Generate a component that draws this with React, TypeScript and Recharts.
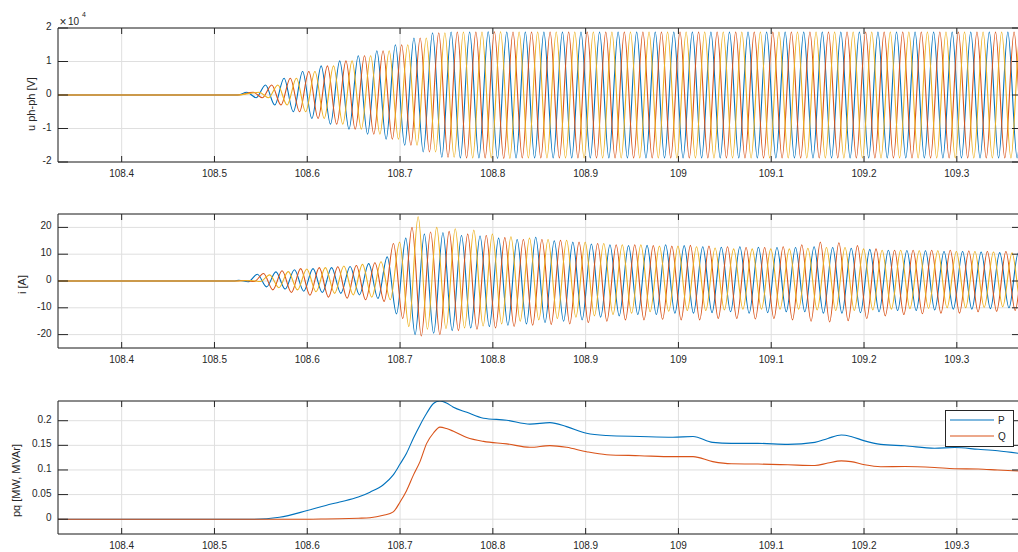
import React from "react";
import { LineChart, Line, XAxis, YAxis, CartesianGrid, ReferenceLine } from "recharts";

const X_MIN = 108.3314;
const X_MAX = 109.367;
const X_TICKS = [108.4, 108.5, 108.6, 108.7, 108.8, 108.9, 109, 109.1, 109.2, 109.3];

const PERIOD = 0.02;
const FIRST_CYCLE = 108.53;

// line-to-line voltage, peak per cycle (x10^4 V)
const uAmp = [
  0.08, 0.3, 0.5, 0.7, 0.87, 1.02, 1.17, 1.32, 1.5, 1.7,
  1.86, 1.88, 1.88, 1.89, 1.88, 1.88, 1.88, 1.88, 1.88, 1.88,
  1.88, 1.88, 1.88, 1.88, 1.88, 1.88, 1.88, 1.88, 1.88, 1.88,
  1.88, 1.88, 1.88, 1.88, 1.88, 1.88, 1.88, 1.88, 1.88, 1.88,
  1.88, 1.88, 1.88,
];
const uStart = 108.525;
const uShift = [0.005, 0.0117, 0.0183];

// phase currents, positive / negative peaks per cycle (A)
const iPosA = [
  0.3, 2.5, 3.4, 4.2, 4.6, 5.0, 5.4, 6.5, 9, 16,
  17.5, 18, 17, 16.8, 16, 15.5, 16.3, 15, 14.5, 13.8,
  13.5, 13.2, 13.3, 13.5, 13.2, 12.8, 12.6, 12.8, 12.6, 12.5,
  12.5, 12.8, 12.5, 12.2, 11.8, 11.5, 11.4, 11.3, 11, 11,
  10.8, 10.6, 10.5,
];
const iNegA = [
  0.3, 2.2, 3.0, 3.8, 4.3, 4.6, 5.2, 6.5, 12.3, 20,
  19.5, 18.5, 17.5, 17, 16.5, 16, 15.5, 15, 14.5, 13.5,
  13, 12.5, 12.5, 12, 12, 11.8, 11.5, 12, 11.8, 11.5,
  11.5, 12, 12, 11.8, 11.5, 11, 11, 10.8, 10.5, 10.5,
  10.3, 10, 10,
];
const iPosB = [
  0.2, 2.8, 3.8, 4.6, 5.0, 5.3, 5.8, 6.8, 14, 20,
  18.3, 18.5, 17.5, 17, 16.2, 15.5, 15.5, 15.2, 14.5, 14,
  13.5, 13.5, 13.2, 13, 13.3, 13, 12.8, 12.5, 12.5, 12.8,
  13.5, 14.5, 14.3, 13.2, 12, 11.5, 11.5, 11.5, 11.5, 11.2,
  11, 11, 10.8,
];
const iNegB = [
  0.2, 3.3, 4.3, 5.3, 6.0, 6.4, 7.0, 7.6, 14, 20.5,
  20, 18.5, 18, 17.5, 17, 16.5, 16.2, 16, 15.5, 15,
  14.5, 14.5, 14.3, 14.5, 14.5, 14, 14, 14.2, 14, 14.5,
  15, 15.3, 14.8, 14, 13, 12.5, 12.2, 12, 12, 11.5,
  11.3, 11, 11,
];
const iPosC = [
  0.2, 2.3, 3.5, 4.5, 5.0, 5.6, 6.2, 7.2, 14.5, 24,
  20, 19.5, 19, 17.5, 16.5, 16, 15.5, 15.2, 14.5, 14,
  13.5, 13.5, 13, 13, 12.8, 12.3, 12, 12, 12, 12,
  12.2, 12.5, 12.5, 12, 11.5, 11.5, 11.3, 11.3, 11, 11,
  10.8, 10.5, 10.5,
];
const iNegC = [
  0.2, 2.5, 3.3, 4.0, 4.6, 5.2, 6.0, 7.0, 17, 18,
  17.8, 17.5, 16.8, 16, 15, 14.5, 14, 13.5, 13, 12.5,
  12, 11.5, 11.3, 11, 11, 10.8, 10.5, 10.5, 10.5, 10.5,
  10.8, 11, 11, 10.8, 10.5, 10.3, 10.2, 10, 10, 9.8,
  9.6, 9.5, 9.5,
];
const iStart = 108.522;
const iShift = [-0.0038, 0.0029, 0.0095];

// active / reactive power
const pqTime = [
  108.3314, 108.54, 108.57, 108.6, 108.62, 108.635, 108.655, 108.6676, 108.682, 108.6927,
  108.7, 108.707, 108.7145, 108.7215, 108.7287, 108.736, 108.743, 108.75, 108.757, 108.772,
  108.79, 108.815, 108.84, 108.8615, 108.8795, 108.901, 108.9226, 108.9585, 108.994, 109.0157,
  109.037, 109.057, 109.0857, 109.118, 109.147, 109.161, 109.1755, 109.186, 109.2006, 109.218,
  109.244, 109.276, 109.2976, 109.323, 109.344, 109.366,
];
const pVals = [
  0, 0, 0.004, 0.0176, 0.028, 0.035, 0.045, 0.055, 0.07, 0.09,
  0.112, 0.134, 0.165, 0.191, 0.215, 0.235, 0.24, 0.236, 0.228, 0.217,
  0.205, 0.201, 0.193, 0.196, 0.188, 0.1745, 0.17, 0.168, 0.1665, 0.168,
  0.156, 0.154, 0.154, 0.152, 0.156, 0.164, 0.171, 0.168, 0.159, 0.152,
  0.149, 0.144, 0.1455, 0.142, 0.139, 0.134,
];
const qVals = [
  0, 0, 0, 0, 0.0005, 0.001, 0.002, 0.003, 0.008, 0.015,
  0.035, 0.058, 0.09, 0.117, 0.154, 0.175, 0.187, 0.184, 0.179, 0.166,
  0.158, 0.153, 0.146, 0.1495, 0.146, 0.137, 0.131, 0.129, 0.127, 0.127,
  0.117, 0.1125, 0.112, 0.1105, 0.109, 0.114, 0.1185, 0.117, 0.1105, 0.1065,
  0.107, 0.105, 0.1025, 0.102, 0.0998, 0.0978,
];

const COLORS = ["#0072BD", "#D95319", "#EDB120"];
const AXIS = "#262626";
const GRID = "#dfdfdf";
const FONT = "'Liberation Sans', Arial, Helvetica, sans-serif";
const PLOT_LEFT = 58;
const PLOT_RIGHT = 1019;

function wave(start: number, shift: number, pos: number[], neg: number[]) {
  const pts = [{ t: X_MIN, v: 0 }, { t: start, v: 0 }];
  pos.forEach((p, k) => {
    const tp = FIRST_CYCLE + k * PERIOD + shift;
    pts.push({ t: tp, v: p });
    pts.push({ t: tp + PERIOD / 2, v: -neg[k] });
  });
  return pts;
}

const uSeries = uShift.map((s) => wave(uStart, s, uAmp, uAmp));
const iSeries = [
  wave(iStart, iShift[0], iPosA, iNegA),
  wave(iStart, iShift[1], iPosB, iNegB),
  wave(iStart, iShift[2], iPosC, iNegC),
];
const pqData = pqTime.map((t, i) => ({ t, p: pVals[i], q: qVals[i] }));

const fmtX = (v: number) => String(Number(v.toFixed(1)));
const fmtY = (v: number) => String(Number(v.toFixed(2)));

const xTick = (top: number, bottom: number) => (props: any) => {
  const { x, payload } = props;
  return (
    <g>
      <line x1={x} x2={x} y1={bottom} y2={bottom - 6} stroke={AXIS} />
      <line x1={x} x2={x} y1={top} y2={top + 6} stroke={AXIS} />
      <text x={x} y={bottom + 11} textAnchor="middle" dominantBaseline="central" fontSize={10} fill={AXIS} fontFamily={FONT}>
        {fmtX(payload.value)}
      </text>
    </g>
  );
};

const yTick = (props: any) => {
  const { y, payload } = props;
  return (
    <g>
      <line x1={PLOT_LEFT} x2={PLOT_LEFT + 10} y1={y} y2={y} stroke={AXIS} />
      <line x1={PLOT_RIGHT - 7} x2={PLOT_RIGHT} y1={y} y2={y} stroke={AXIS} />
      <text x={PLOT_LEFT - 6.5} y={y - 1.5} textAnchor="end" dominantBaseline="central" fontSize={10} fill={AXIS} fontFamily={FONT}>
        {fmtY(payload.value)}
      </text>
    </g>
  );
};

function Panel({
  top, height, marginTop, xHeight, domain, ticks, children, data,
}: {
  top: number; height: number; marginTop: number; xHeight: number;
  domain: [number, number]; ticks: number[]; children: React.ReactNode; data?: any[];
}) {
  const plotBottom = height - xHeight;
  return (
    <div style={{ position: "absolute", left: 0, top }}>
      <LineChart width={1020} height={height} data={data} margin={{ top: marginTop, right: 1, bottom: 0, left: 0 }}>
        <CartesianGrid stroke={GRID} />
        <XAxis
          dataKey="t" type="number" domain={[X_MIN, X_MAX]} ticks={X_TICKS} interval={0}
          allowDataOverflow height={xHeight} tickLine={false} tickSize={0} tickMargin={0}
          axisLine={{ stroke: AXIS }} tick={xTick(marginTop, plotBottom)}
        />
        <YAxis
          type="number" domain={domain} ticks={ticks} interval={0} allowDataOverflow width={PLOT_LEFT}
          tickLine={false} tickSize={0} tickMargin={0} axisLine={{ stroke: AXIS }} tick={yTick}
        />
        {children}
        <ReferenceLine y={domain[1]} stroke={AXIS} />
        <ReferenceLine x={X_MAX} stroke={AXIS} />
      </LineChart>
    </div>
  );
}

export default function App() {
  return (
    <div style={{ position: "absolute", left: 0, top: 0, width: 1018, height: 552, overflow: "hidden", background: "#fff" }}>
      <Panel top={0} height={185} marginTop={28} xHeight={23} domain={[-2, 2]} ticks={[-2, -1, 0, 1, 2]}>
        {uSeries.map((s, i) => (
          <Line key={i} data={s} dataKey="v" type="monotone" stroke={COLORS[i]} strokeWidth={1.1} dot={false} isAnimationActive={false} />
        ))}
      </Panel>
      <Panel top={186} height={185} marginTop={28} xHeight={23} domain={[-25, 25]} ticks={[-20, -10, 0, 10, 20]}>
        {iSeries.map((s, i) => (
          <Line key={i} data={s} dataKey="v" type="monotone" stroke={COLORS[i]} strokeWidth={1.1} dot={false} isAnimationActive={false} />
        ))}
      </Panel>
      <Panel top={372} height={180} marginTop={29} xHeight={18} domain={[-0.03, 0.24]} ticks={[0, 0.05, 0.1, 0.15, 0.2]} data={pqData}>
        <Line dataKey="p" name="P" type="monotone" stroke={COLORS[0]} strokeWidth={1.1} dot={false} isAnimationActive={false} />
        <Line dataKey="q" name="Q" type="monotone" stroke={COLORS[1]} strokeWidth={1.1} dot={false} isAnimationActive={false} />
      </Panel>
      <svg width={1018} height={552} style={{ position: "absolute", left: 0, top: 0, pointerEvents: "none" }} fontFamily={FONT}>
        <text x={31} y={104} transform="rotate(-90 31 104)" textAnchor="middle" dominantBaseline="central" fontSize={11} fill={AXIS}>u ph-ph [V]</text>
        <text x={22} y={284.5} transform="rotate(-90 22 284.5)" textAnchor="middle" dominantBaseline="central" fontSize={11} fill={AXIS}>i [A]</text>
        <text x={16} y={480.5} transform="rotate(-90 16 480.5)" textAnchor="middle" dominantBaseline="central" fontSize={11} fill={AXIS}>pq [MW, MVAr]</text>
        <text x={59.5} y={21.5} dominantBaseline="central" fontSize={12} fill={AXIS}>×</text>
        <text x={68} y={21} dominantBaseline="central" fontSize={10} fill={AXIS}>10</text>
        <text x={82} y={14} dominantBaseline="central" fontSize={7} fill={AXIS}>4</text>
        <rect x={945.5} y={410.5} width={68} height={36} fill="#fff" stroke={AXIS} />
        <line x1={950} x2={994} y1={420} y2={420} stroke={COLORS[0]} strokeWidth={1.1} />
        <text x={998} y={420} dominantBaseline="central" fontSize={10} fill={AXIS}>P</text>
        <line x1={950} x2={994} y1={436} y2={436} stroke={COLORS[1]} strokeWidth={1.1} />
        <text x={998} y={436} dominantBaseline="central" fontSize={10} fill={AXIS}>Q</text>
      </svg>
    </div>
  );
}
